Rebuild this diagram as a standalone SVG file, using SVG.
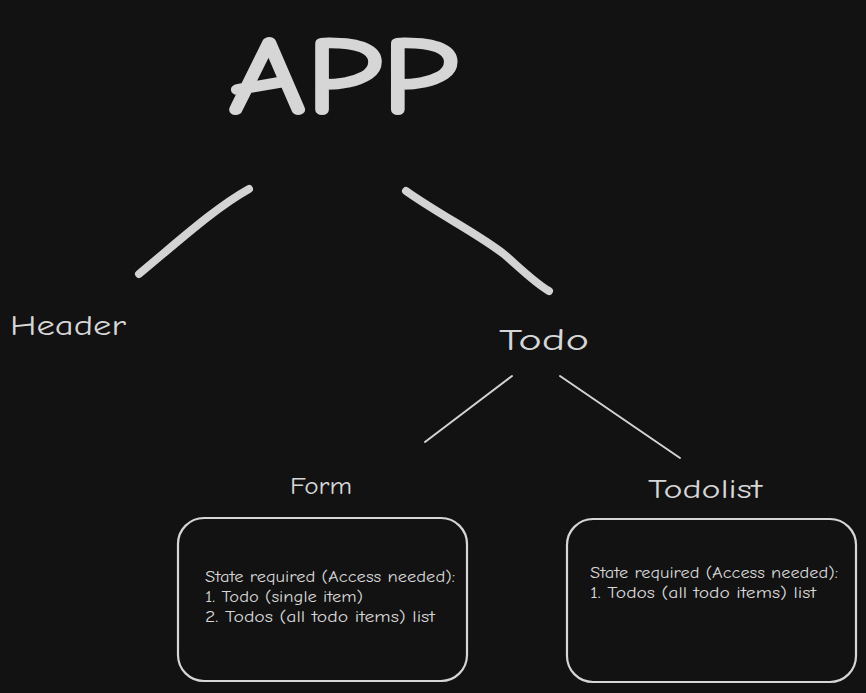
<svg xmlns="http://www.w3.org/2000/svg" width="866" height="693" viewBox="0 0 866 693">
<style>
.t{fill:#d6d6d6;font-family:"Comic Neue","Noto Sans","Liberation Sans",sans-serif}
.box{fill:none;stroke:#d6d6d6;stroke-width:2.2}
.thick{fill:none;stroke:#d3d3d3;stroke-width:8;stroke-linecap:round}
.thin{fill:none;stroke:#d3d3d3;stroke-width:2;stroke-linecap:round}
.small{font-size:15px}
</style>
<rect width="866" height="693" fill="#121212"/>
<g id="app">
<text class="t" x="228" y="112" font-size="108" textLength="230" lengthAdjust="spacingAndGlyphs" stroke="#d6d6d6" stroke-width="4">APP</text>
</g>
<g id="header"><text class="t" x="10" y="335" font-size="28" textLength="116" lengthAdjust="spacingAndGlyphs">Header</text></g>
<g id="todo"><text class="t" x="499" y="350" font-size="31" textLength="90" lengthAdjust="spacingAndGlyphs">Todo</text></g>
<g id="form"><text class="t" x="290" y="494" font-size="24" textLength="62" lengthAdjust="spacingAndGlyphs">Form</text></g>
<g id="todolist"><text class="t" x="648" y="498" font-size="26" textLength="114" lengthAdjust="spacingAndGlyphs">Todolist</text></g>
<g id="form-box">
<rect class="box" x="178" y="518" width="289" height="163" rx="26"/>
<text class="t small" x="205" y="582" textLength="250" lengthAdjust="spacingAndGlyphs">State required (Access needed):</text>
<text class="t small" x="205" y="602" textLength="158" lengthAdjust="spacingAndGlyphs">1. Todo (single item)</text>
<text class="t small" x="205" y="622" textLength="230" lengthAdjust="spacingAndGlyphs">2. Todos (all todo items) list</text>
</g>
<g id="todolist-box">
<rect class="box" x="567" y="519" width="289" height="163" rx="26"/>
<text class="t small" x="590" y="578" textLength="248" lengthAdjust="spacingAndGlyphs">State required (Access needed):</text>
<text class="t small" x="590" y="598" textLength="226" lengthAdjust="spacingAndGlyphs">1. Todos (all todo items) list</text>
</g>
<g id="connectors">
<path class="thick" d="M249 189 C215 208 180 240 139 274"/>
<path class="thick" d="M406 191 C440 215 480 235 505 255 C520 268 535 283 549 291"/>
<path class="thin" d="M512 376 L425 442"/>
<path class="thin" d="M560 376 L680 458"/>
</g>
</svg>
